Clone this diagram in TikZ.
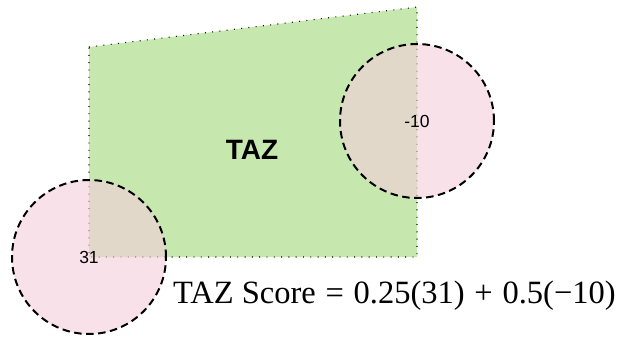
\documentclass[tikz,border=0pt]{standalone}
\usepackage{fontspec}
\setmainfont{Liberation Serif}
\newfontfamily\labelfont{Liberation Sans}
\newcommand{\opgap}{\hspace{0.3em}}
\begin{document}
\begin{tikzpicture}[x=1pt,y=-1pt,
  zone/.style={fill=zonegreen,draw=black,line width=1.1pt,dash pattern=on 0.9pt off 6.4pt},
  buffer/.style={circle,minimum size=154pt,inner sep=0pt,fill=bufferpink,fill opacity=0.62,
    draw=black,draw opacity=1,line width=2pt,dash pattern=on 7.5pt off 4.5pt},
  value/.style={font=\labelfont\fontsize{17.5}{17.5}\selectfont,text opacity=1}]
\definecolor{zonegreen}{RGB}{198,232,174}
\definecolor{bufferpink}{RGB}{244,207,219}
\useasboundingbox (0,0) rectangle (618,337);
% traffic analysis zone polygon
\coordinate (tl) at (89,47);
\coordinate (tr) at (417,7);
\coordinate (br) at (417,257);
\coordinate (bl) at (89,257);
\draw[zone] (tl) -- (tr) -- (br) -- (bl) -- cycle;
\node[font=\labelfont\bfseries\fontsize{28}{28}\selectfont] (taz) at (252,150) {TAZ};
% buffers around the two points
\node[buffer] (b1) at (bl) {};
\node[buffer] (b2) at (417,121) {};
\node[value] (v1) at (b1.center) {31};
\node[value] (v2) at (b2.center) {-10};
% score formula
\node[anchor=base west,inner sep=0pt,font=\fontsize{32.5}{32.5}\selectfont] (score) at (173,303)
  {TAZ Score\opgap=\opgap0.25(31)\opgap+\opgap0.5(−10)};
\end{tikzpicture}
\end{document}
